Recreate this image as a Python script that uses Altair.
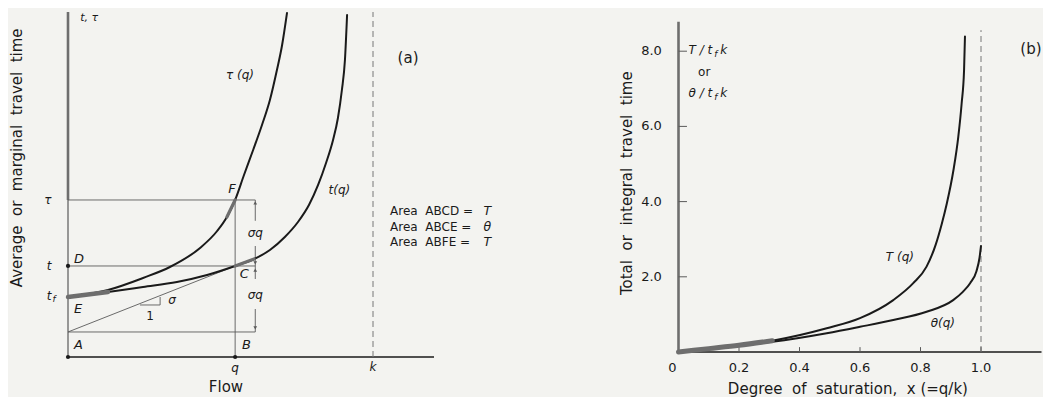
import altair as alt
import pandas as pd

# ---------------- Panel (a): flow in units of k, time in units of t_f ----------------
a_t_x = [0.0, 0.131, 0.246, 0.357, 0.456, 0.548, 0.610, 0.662, 0.711, 0.754, 0.790, 0.820, 0.846, 0.869, 0.885, 0.898, 0.908, 0.915]
a_t_y = [1.0, 1.083, 1.167, 1.25, 1.367, 1.517, 1.633, 1.783, 2.0, 2.25, 2.533, 2.867, 3.233, 3.617, 3.983, 4.45, 4.95, 5.7]
a_tau_x = [0.0, 0.131, 0.246, 0.334, 0.433, 0.489, 0.521, 0.548, 0.577, 0.607, 0.636, 0.662, 0.685, 0.702, 0.718]
a_tau_y = [1.0, 1.117, 1.317, 1.5, 1.817, 2.1, 2.333, 2.617, 3.033, 3.45, 3.867, 4.283, 4.783, 5.2, 5.733]
q_val = 0.548
t_val = 1.517
tau_val = 2.617
a_level = 0.417
k_val = 1.0
a_xmax = 1.2
a_ymax = 5.75
a_grey_end = 0.131

# ---------------- Panel (b): degree of saturation vs normalised total time ----------------
b_T_x = [0.0, 0.1, 0.2, 0.31, 0.49, 0.6, 0.71, 0.776, 0.82, 0.85, 0.87, 0.887, 0.909, 0.925, 0.936, 0.944, 0.947]
b_T_y = [0.0, 0.09, 0.18, 0.30, 0.63, 0.90, 1.38, 1.83, 2.27, 2.85, 3.4, 3.95, 4.84, 5.73, 6.61, 7.5, 8.39]
b_th_x = [0.0, 0.1, 0.2, 0.31, 0.49, 0.6, 0.71, 0.82, 0.908, 0.94, 0.964, 0.985, 0.995, 1.0]
b_th_y = [0.0, 0.085, 0.17, 0.27, 0.50, 0.67, 0.85, 1.07, 1.38, 1.6, 1.83, 2.15, 2.5, 2.82]
b_xticks = [0.2, 0.4, 0.6, 0.8, 1.0]
b_xlabels = ["0.2", "0.4", "0.6", "0.8", "1.0"]
b_yticks = [2.0, 4.0, 6.0, 8.0]
b_ylabels = ["2.0", "4.0", "6.0", "8.0"]
b_xmax = 1.2
b_ymax = 8.78
b_sat = 1.0
b_grey_end = 0.31

# ---------------- layout (chart pixel space) ----------------
W, H = 1035, 389
FONT = "DejaVu Sans"
INK = "#1a1a1a"
GREY = "#6e6e6e"
THIN = "#5a5a5a"

a_ox, a_oy, a_ux, a_uy = 60.0, 349.0, 305.0, 60.0
sxa = alt.Scale(domain=[-a_ox / a_ux, (W - a_ox) / a_ux], nice=False, zero=False)
sya = alt.Scale(domain=[-(H - a_oy) / a_uy, a_oy / a_uy], nice=False, zero=False)
b_ox, b_oy, b_ux, b_uy = 670.5, 344.0, 302.5, 37.6
sxb = alt.Scale(domain=[-b_ox / b_ux, (W - b_ox) / b_ux], nice=False, zero=False)
syb = alt.Scale(domain=[-(H - b_oy) / b_uy, b_oy / b_uy], nice=False, zero=False)


def X(sc, f="x"):
    return alt.X(f"{f}:Q", scale=sc, axis=None)


def Y(sc, f="y"):
    return alt.Y(f"{f}:Q", scale=sc, axis=None)


def segs(rows, sx, sy, color, width, dash=None):
    df = pd.DataFrame(rows, columns=["x", "y", "x2", "y2"])
    kw = dict(color=color, strokeWidth=width)
    if dash:
        kw["strokeDash"] = dash
    return alt.Chart(df).mark_rule(**kw).encode(x=X(sx), y=Y(sy), x2="x2:Q", y2="y2:Q")


def curve(xs, ys, sx, sy, color, width):
    df = pd.DataFrame({"x": xs, "y": ys})
    return alt.Chart(df).mark_line(color=color, strokeWidth=width, interpolate="monotone",
                                   strokeCap="round").encode(x=X(sx), y=Y(sy))


def sub(xs, ys, lo, hi):
    pts = [(x, y) for x, y in zip(xs, ys) if lo <= x <= hi]
    return [p[0] for p in pts], [p[1] for p in pts]


def label(sx, sy, x, y, text, size=13, italic=False, align="center", baseline="middle", angle=0, color=INK):
    df = pd.DataFrame({"x": [x], "y": [y], "t": [text.replace(" ", "\u00a0")]})
    kw = dict(fontSize=size, font=FONT, align=align, baseline=baseline, color=color)
    if italic:
        kw["fontStyle"] = "italic"
    if angle:
        kw["angle"] = angle
    return alt.Chart(df).mark_text(**kw).encode(x=X(sx), y=Y(sy), text="t:N")


def dots(xs, ys, sx, sy, size=16, shape="circle", color=INK):
    df = pd.DataFrame({"x": xs, "y": ys})
    return alt.Chart(df).mark_point(filled=True, size=size, shape=shape, color=color, opacity=1).encode(
        x=X(sx), y=Y(sy))


# ---------------- panel (a) ----------------
arrow_x = q_val + 0.066
pa = []
pa.append(segs([(0, tau_val, 0, a_ymax)], sxa, sya, GREY, 2.6))
pa.append(segs([(0, 0, 0, tau_val)], sxa, sya, THIN, 1.2))
pa.append(segs([(0, 0, a_xmax, 0)], sxa, sya, INK, 1.5))
pa.append(segs([(k_val, 0, k_val, a_ymax)], sxa, sya, "#777777", 1.0, dash=[6, 4]))
pa.append(segs([(0, tau_val, arrow_x, tau_val),
                (0, t_val, arrow_x, t_val),
                (0, a_level, arrow_x, a_level),
                (q_val, 0, q_val, tau_val),
                (0, a_level, q_val, t_val)], sxa, sya, THIN, 0.9))
pa.append(segs([(arrow_x, tau_val, arrow_x, 2.27),
                (arrow_x, 1.85, arrow_x, 1.30),
                (arrow_x, 0.80, arrow_x, a_level)], sxa, sya, THIN, 0.9))
pa.append(dots([arrow_x, arrow_x], [tau_val - 0.05, t_val - 0.07], sxa, sya, size=14, shape="triangle-up", color=THIN))
pa.append(dots([arrow_x, arrow_x], [t_val + 0.05, a_level + 0.07], sxa, sya, size=14, shape="triangle-down", color=THIN))
pa.append(segs([(0.236, 0.867, 0.302, 0.867), (0.302, 0.867, 0.302, 1.0)], sxa, sya, THIN, 0.9))
pa.append(curve(a_t_x, a_t_y, sxa, sya, INK, 2.0))
pa.append(curve(a_tau_x, a_tau_y, sxa, sya, INK, 2.0))
gx, gy = sub(a_t_x, a_t_y, 0, a_grey_end)
pa.append(curve(gx, gy, sxa, sya, GREY, 4.5))
fx, fy = sub(a_tau_x, a_tau_y, 0.521, q_val)
pa.append(curve(fx, fy, sxa, sya, GREY, 3.2))
cx, cy = sub(a_t_x, a_t_y, q_val, 0.61)
pa.append(curve(cx, cy, sxa, sya, GREY, 3.2))
pa.append(dots([0, q_val, 0], [0, 0, t_val], sxa, sya, size=18))
pa.append(label(sxa, sya, -0.166, 3.32, "Average  or  marginal  travel  time", size=15, angle=270))
pa.append(label(sxa, sya, 0.518, -0.5, "Flow", size=15))
pa.append(label(sxa, sya, 0.04, 5.65, "t, τ", size=11, italic=True, align="left"))
pa.append(label(sxa, sya, 0.564, 4.70, "τ (q)", size=12, italic=True))
pa.append(label(sxa, sya, 0.89, 2.78, "t(q)", size=12, italic=True))
pa.append(label(sxa, sya, 1.115, 4.98, "(a)", size=15))
pa.append(label(sxa, sya, 0.538, 2.80, "F", size=13, italic=True))
pa.append(label(sxa, sya, 0.02, 1.63, "D", size=13, italic=True, align="left"))
pa.append(label(sxa, sya, 0.578, 1.38, "C", size=13, italic=True))
pa.append(label(sxa, sya, 0.02, 0.80, "E", size=13, italic=True, align="left"))
pa.append(label(sxa, sya, 0.02, 0.20, "A", size=13, italic=True, align="left"))
pa.append(label(sxa, sya, 0.585, 0.20, "B", size=13, italic=True))
pa.append(label(sxa, sya, q_val, -0.19, "q", size=12, italic=True))
pa.append(label(sxa, sya, k_val, -0.16, "k", size=12, italic=True))
pa.append(label(sxa, sya, -0.066, tau_val, "τ", size=12, italic=True))
pa.append(label(sxa, sya, -0.062, t_val, "t", size=12, italic=True))
pa.append(label(sxa, sya, -0.062, 1.02, "t", size=12, italic=True))
pa.append(label(sxa, sya, -0.046, 0.96, "f", size=9, italic=True))
pa.append(label(sxa, sya, arrow_x, 2.07, "σq", size=12, italic=True))
pa.append(label(sxa, sya, arrow_x, 1.03, "σq", size=12, italic=True))
pa.append(label(sxa, sya, 0.341, 0.95, "σ", size=12, italic=True))
pa.append(label(sxa, sya, 0.269, 0.68, "1", size=12))
area_rows = [("Area  ABCD =", "T", 2.43), ("Area  ABCE =", "θ", 2.17), ("Area  ABFE =", "T", 1.91)]
for txt, sym, yy in area_rows:
    pa.append(label(sxa, sya, 1.056, yy, txt, size=12, align="left"))
    pa.append(label(sxa, sya, 1.362, yy, sym, size=12.5, italic=True, align="left"))
panel_a = alt.layer(*pa)

# ---------------- panel (b) ----------------
pb = []
pb.append(segs([(0, 0, 0, b_ymax)], sxb, syb, GREY, 2.6))
pb.append(segs([(0, 0, b_xmax, 0)], sxb, syb, INK, 1.5))
pb.append(segs([(b_sat, 0, b_sat, 8.56)], sxb, syb, "#777777", 1.0, dash=[6, 4]))
pb.append(segs([(v, 0, v, 0.13) for v in b_xticks], sxb, syb, THIN, 1.0))
pb.append(segs([(0, v, 0.028, v) for v in b_yticks], sxb, syb, THIN, 1.0))
pb.append(curve(b_T_x, b_T_y, sxb, syb, INK, 2.0))
pb.append(curve(b_th_x, b_th_y, sxb, syb, INK, 2.0))
gx, gy = sub(b_T_x, b_T_y, 0, b_grey_end)
pb.append(curve(gx, gy, sxb, syb, GREY, 5.0))
for v, lab in zip(b_xticks, b_xlabels):
    pb.append(label(sxb, syb, v, -0.42, lab, size=13))
for v, lab in zip(b_yticks, b_ylabels):
    pb.append(label(sxb, syb, -0.055, v, lab, size=13, align="right"))
pb.append(label(sxb, syb, -0.02, -0.42, "0", size=13))
pb.append(label(sxb, syb, 0.56, -0.98, "Degree  of  saturation,  x (=q/k)", size=15))
pb.append(label(sxb, syb, -0.17, 4.49, "Total  or  integral  travel  time", size=15, angle=270))
pb.append(label(sxb, syb, 0.033, 8.03, "T / t", size=12, italic=True, align="left"))
pb.append(label(sxb, syb, 0.118, 7.93, "f", size=9, italic=True, align="left"))
pb.append(label(sxb, syb, 0.138, 8.03, "k", size=12, italic=True, align="left"))
pb.append(label(sxb, syb, 0.085, 7.45, "or", size=12))
pb.append(label(sxb, syb, 0.033, 6.88, "θ / t", size=12, italic=True, align="left"))
pb.append(label(sxb, syb, 0.118, 6.78, "f", size=9, italic=True, align="left"))
pb.append(label(sxb, syb, 0.138, 6.88, "k", size=12, italic=True, align="left"))
pb.append(label(sxb, syb, 0.732, 2.53, "T (q)", size=12, italic=True))
pb.append(label(sxb, syb, 0.874, 0.77, "θ(q)", size=12, italic=True))
pb.append(label(sxb, syb, 1.13, 8.06, "(b)", size=15, align="left"))
panel_b = alt.layer(*pb)

chart = alt.layer(panel_a, panel_b).resolve_scale(x="independent", y="independent").properties(
    width=W, height=H, padding=0, autosize=alt.AutoSizeParams(type="none"),
    background="#f3f3f0",
).configure_view(stroke=None)

chart.save("out.html", embed_options={"renderer": "svg", "actions": False})
